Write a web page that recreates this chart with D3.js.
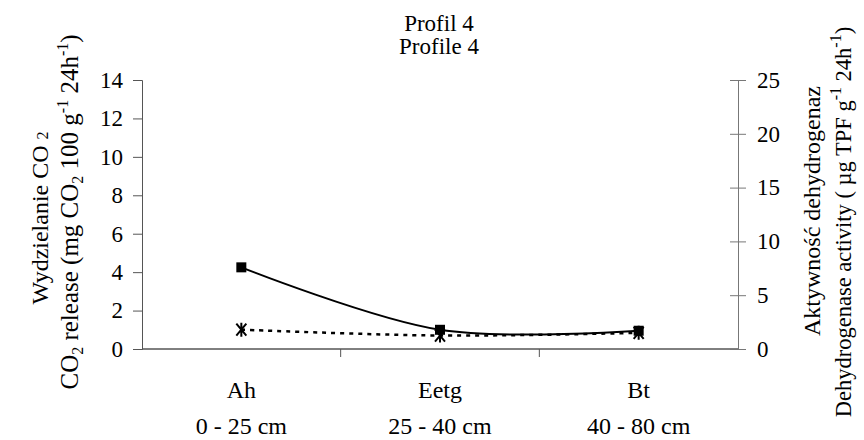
<!DOCTYPE html>
<html>
<head>
<meta charset="utf-8">
<script src="https://cdn.jsdelivr.net/npm/d3@7"></script>
<style>
  body { margin: 0; background: #fff; }
  svg text { font-family: "Liberation Serif", "Times New Roman", "DejaVu Serif", serif !important; fill: #000; }
</style>
</head>
<body>
<svg id="chart" width="864" height="440"></svg>
<script>
// horizons and depths
const horizons = ["Ah", "Eetg", "Bt"];
const depths = ["0 - 25 cm", "25 - 40 cm", "40 - 80 cm"];
// CO2 release (left axis)
const co2 = [4.25, 1.0, 0.95];
// dehydrogenase activity (right axis)
const dehydro = [1.8, 1.25, 1.5];
const leftTicks = [0, 2, 4, 6, 8, 10, 12, 14];
const rightTicks = [0, 5, 10, 15, 20, 25];

const width = 864, height = 440;
const margin = { top: 80, right: 126, bottom: 91, left: 142 };
const svg = d3.select("#chart");

const x = d3.scaleBand()
  .domain(horizons)
  .range([margin.left, width - margin.right]);
const yL = d3.scaleLinear().domain([0, 14]).range([height - margin.bottom, margin.top]);
const yR = d3.scaleLinear().domain([0, 25]).range([height - margin.bottom, margin.top]);
const cx = d => x(d) + x.bandwidth() / 2;
const fs = 24, tfs = 23, sub = 16;

// title
svg.append("text").attr("x", 439).attr("y", 31).attr("text-anchor", "middle")
  .attr("font-size", tfs).text("Profil 4");
svg.append("text").attr("x", 439).attr("y", 54).attr("text-anchor", "middle")
  .attr("font-size", tfs).text("Profile 4");

// x axis line with category dividers
const x0 = yL(0);
svg.append("line")
  .attr("x1", margin.left).attr("x2", width - margin.right)
  .attr("y1", x0).attr("y2", x0)
  .attr("stroke", "#000").attr("stroke-width", 1);
svg.append("g").selectAll("line")
  .data(horizons.slice(1))
  .join("line")
  .attr("x1", d => x(d)).attr("x2", d => x(d))
  .attr("y1", x0).attr("y2", x0 + 8)
  .attr("stroke", "#555");

svg.append("g").selectAll("text")
  .data(horizons)
  .join("text")
  .attr("x", cx).attr("y", 398).attr("text-anchor", "middle")
  .attr("font-size", fs).text(d => d);
svg.append("g").selectAll("text")
  .data(depths)
  .join("text")
  .attr("x", (d, i) => cx(horizons[i])).attr("y", 434).attr("text-anchor", "middle")
  .attr("font-size", fs).text(d => d);

// left axis
const gL = svg.append("g").attr("transform", `translate(${margin.left},0)`)
  .call(d3.axisLeft(yL).tickValues(leftTicks).tickSize(9).tickPadding(10));
gL.select(".domain").attr("stroke", "#555");
gL.selectAll(".tick line").attr("stroke", "#555");
gL.selectAll(".tick text").attr("font-size", tfs);

// right axis (ticks cross the line)
const rx = width - margin.right;
const gR = svg.append("g").attr("transform", `translate(${rx},0)`)
  .call(d3.axisRight(yR).tickValues(rightTicks).tickSize(8).tickPadding(11));
gR.select(".domain").attr("stroke", "#777");
gR.selectAll(".tick line").attr("x1", -8).attr("stroke", "#777");
gR.selectAll(".tick text").attr("font-size", tfs);

// axis titles
svg.append("text")
  .attr("transform", "translate(48,218) rotate(-90)")
  .attr("text-anchor", "middle").attr("font-size", fs)
  .html(`Wydzielanie CO <tspan font-size="${sub}">2</tspan>`);
svg.append("text")
  .attr("transform", "translate(78,212) rotate(-90)")
  .attr("text-anchor", "middle").attr("font-size", 25)
  .html(`CO<tspan font-size="${sub}" dy="5">2</tspan><tspan dy="-5"> release (mg CO</tspan><tspan font-size="${sub}" dy="5">2</tspan><tspan dy="-5"> 100 g</tspan><tspan font-size="${sub}" dy="-10">-1</tspan><tspan dy="10"> 24h</tspan><tspan font-size="${sub}" dy="-10">-1</tspan><tspan dy="10">)</tspan>`);

svg.append("text")
  .attr("transform", "translate(820,211) rotate(-90)")
  .attr("text-anchor", "middle").attr("font-size", fs)
  .text("Aktywność dehydrogenaz");
svg.append("text")
  .attr("transform", "translate(851,222) rotate(-90)")
  .attr("text-anchor", "middle").attr("font-size", 22.5)
  .html(`Dehydrogenase activity ( µg TPF g<tspan font-size="${sub}" dy="-10">-1</tspan><tspan dy="10"> 24h</tspan><tspan font-size="${sub}" dy="-10">-1</tspan><tspan dy="10">)</tspan>`);

// dehydrogenase line (dashed, asterisks)
const lineR = d3.line()
  .x((d, i) => cx(horizons[i]))
  .y(d => yR(d))
  .curve(d3.curveCatmullRom.alpha(0.5));
svg.append("path")
  .attr("d", lineR(dehydro))
  .attr("fill", "none").attr("stroke", "#000").attr("stroke-width", 2.5)
  .attr("stroke-dasharray", "4,5");

// CO2 line (solid, squares)
const lineL = d3.line()
  .x((d, i) => cx(horizons[i]))
  .y(d => yL(d))
  .curve(d3.curveCatmullRom.alpha(0.5));
svg.append("path")
  .attr("d", lineL(co2))
  .attr("fill", "none").attr("stroke", "#000").attr("stroke-width", 2);

// asterisk markers
const ast = svg.append("g").selectAll("g")
  .data(dehydro)
  .join("g")
  .attr("transform", (d, i) => `translate(${cx(horizons[i])},${yR(d)})`);
ast.append("path")
  .attr("d", "M-5,-6L5,6M-5,6L5,-6M0,-7L0,7")
  .attr("stroke", "#000").attr("stroke-width", 2);

svg.append("g").selectAll("rect")
  .data(co2)
  .join("rect")
  .attr("x", (d, i) => cx(horizons[i]) - 5)
  .attr("y", d => yL(d) - 5)
  .attr("width", 10).attr("height", 10)
  .attr("fill", "#000");
</script>
</body>
</html>
